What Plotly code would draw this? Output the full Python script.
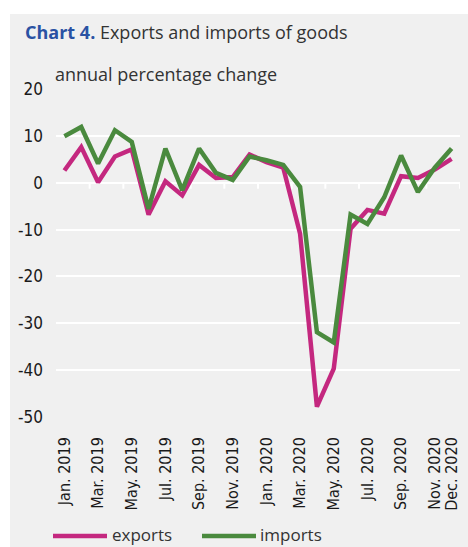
import plotly.graph_objects as go

months = ["Jan. 2019", "Feb. 2019", "Mar. 2019", "Apr. 2019", "May. 2019", "Jun. 2019",
          "Jul. 2019", "Aug. 2019", "Sep. 2019", "Oct. 2019", "Nov. 2019", "Dec. 2019",
          "Jan. 2020", "Feb. 2020", "Mar. 2020", "Apr. 2020", "May. 2020", "Jun. 2020",
          "Jul. 2020", "Aug. 2020", "Sep. 2020", "Oct. 2020", "Nov. 2020", "Dec. 2020"]
exports = [2.6, 7.6, 0.1, 5.6, 7.1, -6.8, 0.3, -2.7, 3.8, 1.0, 1.2, 6.0,
           4.4, 3.2, -10.9, -47.8, -39.7, -9.8, -5.8, -6.6, 1.4, 1.0, 2.8, 5.1]
imports = [9.9, 11.9, 4.1, 11.2, 8.7, -5.6, 7.3, -1.6, 7.3, 2.1, 0.6, 5.6,
           4.8, 3.8, -0.9, -31.9, -34.1, -6.8, -8.8, -3.1, 5.8, -2.0, 3.2, 7.3]
tick_labels = ["Jan. 2019", "Mar. 2019", "May. 2019", "Jul. 2019", "Sep. 2019", "Nov. 2019",
               "Jan. 2020", "Mar. 2020", "May. 2020", "Jul. 2020", "Sep. 2020", "Nov. 2020",
               "Dec. 2020"]
y_ticks = [20, 10, 0, -10, -20, -30, -40, -50]
series_names = ["exports", "imports"]
series_colors = ["#c4287f", "#4a8a3e"]

W, H = 468, 547
ML, MR, MT, MB = 56, 8, 89, 130
PW, PH = W - ML - MR, H - MT - MB
BG = "#f0f0f0"
NARROW = "Liberation Sans Narrow, DejaVu Sans Condensed, Arial Narrow, sans-serif"
SANS = "Open Sans, Noto Sans, sans-serif"


def px_x(p):
    return (p - ML) / PW


def px_y(p):
    return (H - MB - p) / PH


xs = list(range(len(months)))
tick_vals = [months.index(t) for t in tick_labels]

fig = go.Figure()
for name, vals, col in zip(series_names, [exports, imports], series_colors):
    fig.add_trace(go.Scatter(x=xs, y=vals, mode="lines", name=name,
                             line=dict(color=col, width=4.5), showlegend=False,
                             hoverinfo="skip"))

shapes = [dict(type="rect", xref="paper", yref="paper", x0=px_x(10), x1=px_x(W),
               y0=px_y(H), y1=px_y(14), fillcolor=BG, line=dict(width=0), layer="below")]
# small white ticks on the zero line, between every second month
for b in [i + 1.5 for i in range(0, len(months), 2)]:
    shapes.append(dict(type="line", xref="x", yref="y", ysizemode="pixel", yanchor=0,
                       x0=b, x1=b, y0=0, y1=-6, line=dict(color="white", width=2),
                       layer="below"))

# manual legend
leg_y = px_y(536)
for (x0, x1), name, col in zip([(53, 107), (202, 256)], series_names, series_colors):
    shapes.append(dict(type="line", xref="paper", yref="paper", x0=px_x(x0), x1=px_x(x1),
                       y0=leg_y, y1=leg_y, line=dict(color=col, width=4.5)))

annotations = [
    dict(xref="paper", yref="paper", x=px_x(23), y=px_y(32), xanchor="left", yanchor="middle",
         showarrow=False,
         text="<b><span style='color:#2a52a3'>Chart 4.</span></b> Exports and imports of goods",
         font=dict(family=SANS, size=18, color="#333333")),
    dict(xref="paper", yref="paper", x=px_x(53), y=px_y(74), xanchor="left", yanchor="middle",
         showarrow=False, text="annual percentage change",
         font=dict(family=SANS, size=18, color="#333333")),
]
for xt, name in zip([110, 258], series_names):
    annotations.append(dict(xref="paper", yref="paper", x=px_x(xt), y=px_y(534),
                            xanchor="left", yanchor="middle", showarrow=False, text=name,
                            font=dict(family=SANS, size=17, color="#333333")))

fig.update_layout(
    width=W, height=H,
    margin=dict(l=ML, r=MR, t=MT, b=MB, pad=0),
    paper_bgcolor="white", plot_bgcolor=BG,
    shapes=shapes, annotations=annotations,
    showlegend=False,
)
fig.update_xaxes(range=[-0.5, len(months) - 0.5], tickvals=tick_vals, ticktext=tick_labels,
                 tickangle=-90, showgrid=False, zeroline=False, showline=False, ticks="",
                 tickfont=dict(family=NARROW, size=16, color="#1a1a1a"),
                 ticklabelstandoff=16)
fig.update_yaxes(range=[-50, 20], tickvals=y_ticks, ticktext=[str(v) for v in y_ticks],
                 showgrid=True, gridcolor="white",
                 gridwidth=2, zeroline=False, showline=False, ticks="",
                 tickfont=dict(family=NARROW, size=17, color="#1a1a1a"),
                 ticklabelstandoff=12)

fig.write_html("out.html", config={"displayModeBar": False},
               post_script="document.body.style.margin='0';")
